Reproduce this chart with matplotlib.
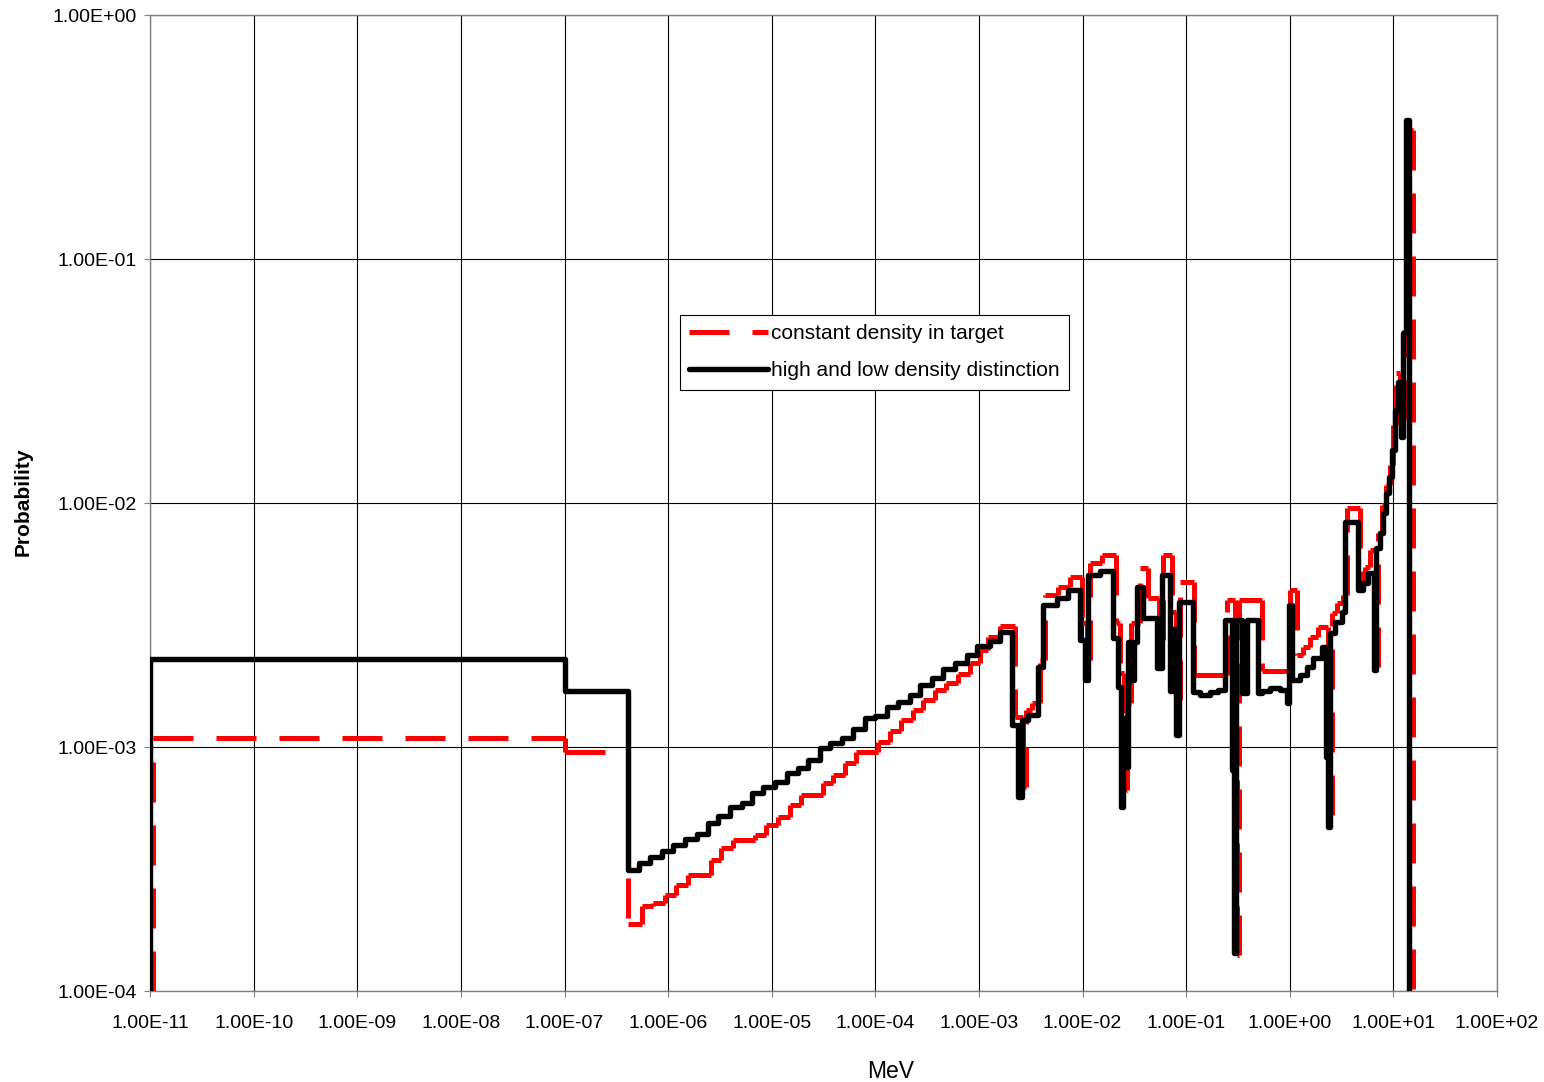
import matplotlib
matplotlib.use("Agg")
import matplotlib.pyplot as plt
import numpy as np
from matplotlib.collections import LineCollection
from matplotlib.lines import Line2D
from matplotlib.ticker import FuncFormatter, NullLocator

plt.rcParams["font.family"] = ["Liberation Sans", "DejaVu Sans"]

# Bin edges [MeV] (last entry closes the final bin) and probability per bin.
# "high and low density distinction"
black_edges = np.array([
    1.00e-11, 1.00e-7, 4.14e-7, 5.25e-7, 6.70e-7, 8.75e-7, 1.12e-6, 1.46e-6, 1.91e-6, 2.43e-6,
    3.04e-6, 3.96e-6, 5.18e-6, 6.47e-6, 8.26e-6, 1.08e-5, 1.41e-5, 1.80e-5, 2.24e-5, 2.93e-5,
    3.66e-5, 4.79e-5, 6.11e-5, 7.98e-5, 9.95e-5, 1.30e-4, 1.66e-4, 2.17e-4, 2.70e-4, 3.53e-4,
    4.51e-4, 5.89e-4, 7.69e-4, 9.61e-4, 1.28e-3, 1.60e-3, 2.09e-3, 2.39e-3, 2.61e-3, 2.99e-3,
    3.73e-3, 4.17e-3, 5.69e-3, 7.26e-3, 9.48e-3, 1.06e-2, 1.13e-2, 1.48e-2, 1.97e-2, 2.21e-2,
    2.36e-2, 2.47e-2, 2.64e-2, 2.75e-2, 2.94e-2, 3.15e-2, 3.37e-2, 3.85e-2, 5.25e-2, 5.86e-2,
    7.01e-2, 7.49e-2, 8.00e-2, 8.55e-2, 0.117, 0.137, 0.171, 0.204, 0.238, 0.278,
    0.291, 0.304, 0.347, 0.388, 0.495, 0.542, 0.647, 0.808, 0.944, 0.987,
    1.055, 1.26, 1.47, 1.68, 2.05, 2.24, 2.35, 2.45, 2.74, 3.21,
    3.43, 4.57, 5.11, 5.71, 6.53, 6.82, 7.46, 7.97, 8.52, 9.11,
    9.73, 10.4, 11.1, 11.9, 12.4, 13.3, 14.2,
])
black_prob = np.array([
    2.30e-3, 1.70e-3, 3.13e-4, 3.36e-4, 3.55e-4, 3.76e-4, 3.96e-4, 4.19e-4, 4.40e-4, 4.87e-4,
    5.23e-4, 5.69e-4, 5.91e-4, 6.46e-4, 6.88e-4, 7.21e-4, 7.85e-4, 8.18e-4, 8.85e-4, 9.88e-4,
    1.035e-3, 1.086e-3, 1.19e-3, 1.31e-3, 1.34e-3, 1.46e-3, 1.53e-3, 1.63e-3, 1.79e-3, 1.91e-3,
    2.08e-3, 2.20e-3, 2.38e-3, 2.59e-3, 2.73e-3, 2.97e-3, 1.23e-3, 6.25e-4, 1.29e-3, 1.35e-3,
    2.13e-3, 3.82e-3, 4.08e-3, 4.40e-3, 2.75e-3, 1.88e-3, 5.07e-3, 5.28e-3, 2.79e-3, 1.77e-3,
    5.69e-4, 1.31e-3, 8.30e-4, 2.70e-3, 1.88e-3, 2.70e-3, 4.54e-3, 3.37e-3, 2.10e-3, 5.07e-3,
    1.69e-3, 3.06e-3, 1.12e-3, 3.94e-3, 1.68e-3, 1.63e-3, 1.68e-3, 1.71e-3, 3.31e-3, 8.05e-4,
    1.43e-4, 3.31e-3, 1.67e-3, 3.31e-3, 1.67e-3, 1.69e-3, 1.74e-3, 1.71e-3, 1.51e-3, 3.82e-3,
    1.88e-3, 1.97e-3, 2.13e-3, 2.31e-3, 2.58e-3, 9.10e-4, 4.71e-4, 2.92e-3, 3.26e-3, 3.59e-3,
    8.38e-3, 4.40e-3, 4.69e-3, 5.15e-3, 2.07e-3, 6.52e-3, 7.51e-3, 9.07e-3, 1.10e-2, 1.28e-2,
    1.65e-2, 2.40e-2, 3.14e-2, 1.87e-2, 4.96e-2, 0.371,
])

# "constant density in target"
red_edges = np.array([
    1.07e-11, 1.00e-7, 4.14e-7, 5.61e-7, 7.16e-7, 9.35e-7, 1.19e-6, 1.56e-6, 2.60e-6, 3.25e-6,
    4.24e-6, 6.92e-6, 8.83e-6, 1.15e-5, 1.51e-5, 1.92e-5, 3.13e-5, 3.92e-5, 5.11e-5, 6.53e-5,
    1.06e-4, 1.39e-4, 1.77e-4, 2.32e-4, 2.89e-4, 3.78e-4, 4.82e-4, 6.30e-4, 8.22e-4, 1.03e-3,
    1.23e-3, 1.60e-3, 2.24e-3, 2.67e-3, 2.85e-3, 3.26e-3, 3.90e-3, 4.36e-3, 5.81e-3, 7.59e-3,
    9.91e-3, 1.11e-2, 1.18e-2, 1.55e-2, 2.11e-2, 2.31e-2, 2.52e-2, 2.70e-2, 2.94e-2, 3.60e-2,
    4.30e-2, 5.49e-2, 6.00e-2, 7.33e-2, 8.00e-2, 8.75e-2, 0.119, 0.249, 0.297, 0.311,
    0.325, 0.542, 1.01, 1.18, 1.35, 1.57, 1.88, 2.35, 2.45, 2.57,
    2.87, 3.28, 3.58, 4.78, 5.34, 5.97, 6.82, 7.13, 7.80, 8.52,
    9.31, 9.96, 10.6, 11.6, 12.7, 13.9, 15.5,
])
red_prob = np.array([
    1.09e-3, 9.55e-4, 1.88e-4, 2.22e-4, 2.30e-4, 2.47e-4, 2.72e-4, 2.99e-4, 3.44e-4, 3.85e-4,
    4.16e-4, 4.36e-4, 4.79e-4, 5.18e-4, 5.78e-4, 6.36e-4, 7.10e-4, 7.67e-4, 8.57e-4, 9.57e-4,
    1.05e-3, 1.16e-3, 1.29e-3, 1.42e-3, 1.56e-3, 1.71e-3, 1.83e-3, 2.00e-3, 2.20e-3, 2.50e-3,
    2.83e-3, 3.13e-3, 1.33e-3, 6.88e-4, 1.42e-3, 1.51e-3, 2.27e-3, 4.20e-3, 4.54e-3, 4.99e-3,
    3.21e-3, 2.27e-3, 5.66e-3, 6.12e-3, 3.21e-3, 2.01e-3, 6.67e-4, 1.51e-3, 3.21e-3, 5.40e-3,
    4.08e-3, 2.75e-3, 6.12e-3, 3.59e-3, 1.56e-3, 4.75e-3, 1.97e-3, 4.00e-3, 7.33e-4, 1.41e-4,
    4.00e-3, 2.04e-3, 4.40e-3, 2.38e-3, 2.57e-3, 2.82e-3, 3.10e-3, 8.85e-4, 5.26e-4, 3.54e-3,
    3.89e-3, 4.20e-3, 9.54e-3, 4.83e-3, 5.47e-3, 6.42e-3, 2.13e-3, 7.54e-3, 9.82e-3, 1.19e-2,
    1.43e-2, 2.09e-2, 3.41e-2, 2.19e-2, 5.12e-2, 0.338,
])

x_ticks = [10.0 ** k for k in range(-11, 3)]
y_ticks = [1e-4, 1e-3, 1e-2, 1e-1, 1e0]
p_floor = 1e-4


def step_vertices(edges, prob, floor):
    # histogram outline: up from the floor, across each bin, back down at the end
    xs = [edges[0]]
    ys = [floor]
    for i, p in enumerate(prob):
        xs += [edges[i], edges[i + 1]]
        ys += [p, p]
    xs.append(edges[-1])
    ys.append(floor)
    return np.array(xs), np.array(ys)


fig = plt.figure(figsize=(15.44, 10.82), dpi=100)
ax = fig.add_axes([0.0972, 0.0841, 0.8724, 0.902])

red_dash = (0, (8, 4.6))

# red trace: every straight piece is stroked on its own, so the dash restarts at each corner
rx, ry = step_vertices(red_edges, red_prob, p_floor)
pts = np.column_stack([rx, ry])
segs = np.stack([pts[:-1], pts[1:]], axis=1)
red_lines = LineCollection(segs, colors="#ff0000", linewidths=3.6,
                           linestyles=[red_dash], capstyle="butt", zorder=3)
ax.add_collection(red_lines)

bx, by = step_vertices(black_edges, black_prob, p_floor)
ax.plot(bx, by, color="black", lw=3.9, solid_joinstyle="round",
        solid_capstyle="round", zorder=4)

ax.set_xscale("log")
ax.set_yscale("log")
ax.set_xlim(1e-11, 1e2)
ax.set_ylim(1e-4, 1e0)
ax.set_xticks(x_ticks)
ax.set_yticks(y_ticks)
ax.xaxis.set_minor_locator(NullLocator())
ax.yaxis.set_minor_locator(NullLocator())
fmt = FuncFormatter(lambda v, pos: f"{v:.2E}")
ax.xaxis.set_major_formatter(fmt)
ax.yaxis.set_major_formatter(fmt)

ax.set_axisbelow(True)
ax.grid(True, which="major", color="black", linewidth=0.8)
for s in ax.spines.values():
    s.set_color("#808080")
    s.set_linewidth(1.0)

ax.tick_params(axis="x", direction="out", length=4, width=0.8, color="#808080",
               labelsize=14, pad=13.5)
ax.tick_params(axis="y", direction="out", length=4, width=0.8, color="#808080",
               labelsize=14, pad=5.5)

ax.set_xlabel("MeV", fontsize=16.5)
ax.xaxis.set_label_coords(0.550, -0.0707)
ax.set_ylabel("Probability", fontsize=15, fontweight="bold")
ax.yaxis.set_label_coords(-0.0869, 0.501)

handles = [
    Line2D([], [], color="#ff0000", lw=3.6, linestyle=red_dash, solid_capstyle="butt"),
    Line2D([], [], color="black", lw=3.9, solid_capstyle="round"),
]
labels = ["constant density in target", "high and low density distinction"]
leg = ax.legend(handles, labels, loc="upper left", bbox_to_anchor=(0.3935, 0.6926),
                borderaxespad=0, fontsize=15, handlelength=3.75, handletextpad=0.15,
                borderpad=0.45, labelspacing=0.85, fancybox=False, framealpha=1,
                edgecolor="black")
leg.get_frame().set_linewidth(0.8)

fig.savefig("out.png", dpi=100)
